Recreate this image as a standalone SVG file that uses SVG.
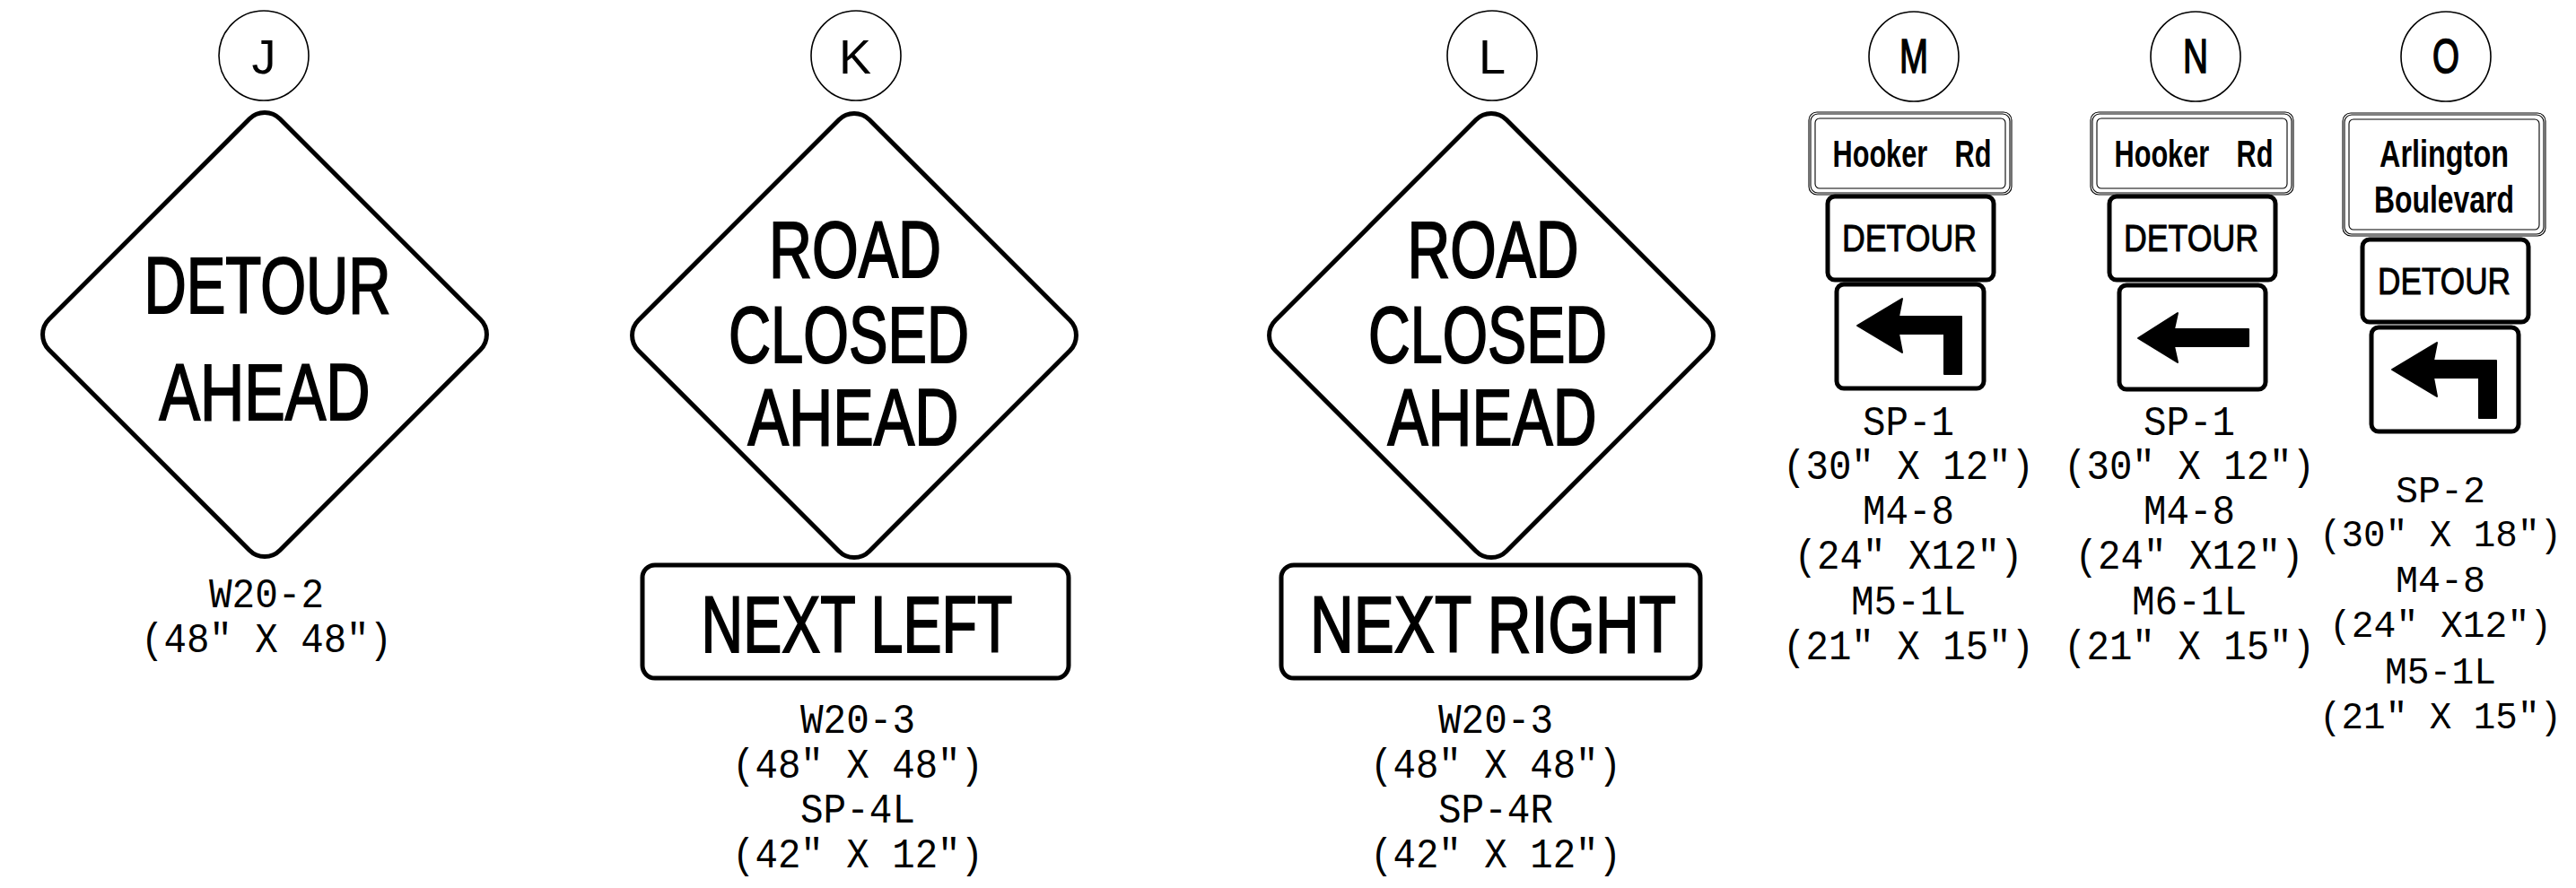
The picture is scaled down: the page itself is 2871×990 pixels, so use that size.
<svg xmlns="http://www.w3.org/2000/svg" width="2871" height="990" viewBox="0 0 2871 990">
<defs>
<style>
.bg{fill:#fff}
.tag{fill:#fff;stroke:#000;stroke-width:1.6}
.tagt{font-family:"Liberation Sans",Arial,sans-serif;font-size:54px;fill:#000;text-anchor:middle}
.tagb{stroke:#000;stroke-width:1.6}
.dia{fill:#fff;stroke:#000;stroke-width:5}
.leg{font-family:"Liberation Sans",Arial,sans-serif;font-size:89px;fill:#000;stroke:#000;stroke-width:2;text-anchor:middle}
.pan{fill:#fff;stroke:#000;stroke-width:5}
.lbl{font-family:"Liberation Mono","DejaVu Sans Mono",monospace;font-size:46px;fill:#000;text-anchor:middle}
.lblo{font-size:43px}
.thin{fill:none;stroke:#000;stroke-width:1.1}
.street{font-family:"Liberation Sans",Arial,sans-serif;font-weight:bold;font-size:42px;fill:#000;text-anchor:middle}
.det{font-family:"Liberation Sans",Arial,sans-serif;font-size:43px;fill:#000;stroke:#000;stroke-width:1;text-anchor:middle}
.arr{fill:#000;stroke:#000;stroke-width:2;stroke-linejoin:round}
</style>
<rect id="dm" x="-182" y="-182" width="364" height="364" rx="24"/>
<path id="turn" d="M23,47 L73,17 L69,37 L139,37 L139,101 L120,101 L120,56 L69,56 L73,77 Z"/>
<path id="straight" d="M21,59 L65,31 L61,49 L144,49 L144,68 L61,68 L65,86 Z"/>
</defs>
<rect class="bg" x="0" y="0" width="2871" height="990"/>

<g id="sign-J">
<circle class="tag" cx="294" cy="62" r="50"/>
<text class="tagt" x="294" y="82">J</text>
<use href="#dm" class="dia" transform="translate(295,373) rotate(45)"/>
<text class="leg" x="298" y="349" textLength="275" lengthAdjust="spacingAndGlyphs">DETOUR</text>
<text class="leg" x="295" y="468" textLength="235" lengthAdjust="spacingAndGlyphs">AHEAD</text>
<text class="lbl" x="297" y="677" textLength="128" lengthAdjust="spacingAndGlyphs">W20-2</text>
<text class="lbl" x="297" y="727" textLength="280" lengthAdjust="spacingAndGlyphs">(48″ X 48″)</text>
</g>

<g id="sign-K">
<circle class="tag" cx="954" cy="62" r="50"/>
<text class="tagt" x="953" y="82">K</text>
<use href="#dm" class="dia" transform="translate(952,374) rotate(45)"/>
<text class="leg" x="953" y="309" textLength="192" lengthAdjust="spacingAndGlyphs">ROAD</text>
<text class="leg" x="946" y="404" textLength="268" lengthAdjust="spacingAndGlyphs">CLOSED</text>
<text class="leg" x="951" y="496" textLength="235" lengthAdjust="spacingAndGlyphs">AHEAD</text>
<rect class="pan" x="716" y="630" width="475" height="126" rx="14"/>
<text class="leg" x="955" y="727" textLength="347" lengthAdjust="spacingAndGlyphs">NEXT LEFT</text>
<text class="lbl" x="956" y="817" textLength="128" lengthAdjust="spacingAndGlyphs">W20-3</text>
<text class="lbl" x="956" y="867" textLength="280" lengthAdjust="spacingAndGlyphs">(48″ X 48″)</text>
<text class="lbl" x="956" y="917" textLength="128" lengthAdjust="spacingAndGlyphs">SP-4L</text>
<text class="lbl" x="956" y="967" textLength="280" lengthAdjust="spacingAndGlyphs">(42″ X 12″)</text>
</g>

<g id="sign-L">
<circle class="tag" cx="1663" cy="62" r="50"/>
<text class="tagt" x="1663" y="82">L</text>
<use href="#dm" class="dia" transform="translate(1662,374) rotate(45)"/>
<text class="leg" x="1664" y="309" textLength="191" lengthAdjust="spacingAndGlyphs">ROAD</text>
<text class="leg" x="1658" y="404" textLength="266" lengthAdjust="spacingAndGlyphs">CLOSED</text>
<text class="leg" x="1663" y="496" textLength="233" lengthAdjust="spacingAndGlyphs">AHEAD</text>
<rect class="pan" x="1428" y="630" width="467" height="126" rx="14"/>
<text class="leg" x="1664" y="727" textLength="408" lengthAdjust="spacingAndGlyphs">NEXT RIGHT</text>
<text class="lbl" x="1667" y="817" textLength="128" lengthAdjust="spacingAndGlyphs">W20-3</text>
<text class="lbl" x="1667" y="867" textLength="280" lengthAdjust="spacingAndGlyphs">(48″ X 48″)</text>
<text class="lbl" x="1667" y="917" textLength="128" lengthAdjust="spacingAndGlyphs">SP-4R</text>
<text class="lbl" x="1667" y="967" textLength="280" lengthAdjust="spacingAndGlyphs">(42″ X 12″)</text>
</g>

<g id="sign-M">
<circle class="tag" cx="2133" cy="63" r="50"/>
<text class="tagt tagb" x="2133" y="81" textLength="32" lengthAdjust="spacingAndGlyphs">M</text>
<rect class="thin" x="2016" y="125" width="226" height="92" rx="9"/>
<rect class="thin" x="2018" y="127" width="222" height="88" rx="8"/>
<rect class="thin" x="2023" y="132" width="212" height="78" rx="5"/>
<text class="street" x="2131" y="186" textLength="177" lengthAdjust="spacingAndGlyphs" word-spacing="30">Hooker Rd</text>
<rect class="pan" x="2037" y="219" width="185" height="93" rx="8"/>
<text class="det" x="2128" y="280" textLength="150" lengthAdjust="spacingAndGlyphs">DETOUR</text>
<rect class="pan" x="2047" y="317" width="164" height="116" rx="8"/>
<use href="#turn" class="arr" transform="translate(2047,316)"/>
<text class="lbl" x="2127" y="485" textLength="102" lengthAdjust="spacingAndGlyphs">SP-1</text>
<text class="lbl" x="2127" y="534" textLength="280" lengthAdjust="spacingAndGlyphs">(30″ X 12″)</text>
<text class="lbl" x="2127" y="584" textLength="102" lengthAdjust="spacingAndGlyphs">M4-8</text>
<text class="lbl" x="2127" y="634" textLength="255" lengthAdjust="spacingAndGlyphs">(24″ X12″)</text>
<text class="lbl" x="2127" y="685" textLength="128" lengthAdjust="spacingAndGlyphs">M5-1L</text>
<text class="lbl" x="2127" y="735" textLength="280" lengthAdjust="spacingAndGlyphs">(21″ X 15″)</text>
</g>

<g id="sign-N">
<circle class="tag" cx="2447" cy="63" r="50"/>
<text class="tagt tagb" x="2447" y="81" textLength="28" lengthAdjust="spacingAndGlyphs">N</text>
<rect class="thin" x="2330" y="125" width="226" height="92" rx="9"/>
<rect class="thin" x="2332" y="127" width="222" height="88" rx="8"/>
<rect class="thin" x="2337" y="132" width="212" height="78" rx="5"/>
<text class="street" x="2445" y="186" textLength="177" lengthAdjust="spacingAndGlyphs" word-spacing="30">Hooker Rd</text>
<rect class="pan" x="2351" y="219" width="185" height="93" rx="8"/>
<text class="det" x="2442" y="280" textLength="150" lengthAdjust="spacingAndGlyphs">DETOUR</text>
<rect class="pan" x="2362" y="318" width="163" height="116" rx="8"/>
<use href="#straight" class="arr" transform="translate(2362,318)"/>
<text class="lbl" x="2440" y="485" textLength="102" lengthAdjust="spacingAndGlyphs">SP-1</text>
<text class="lbl" x="2440" y="534" textLength="280" lengthAdjust="spacingAndGlyphs">(30″ X 12″)</text>
<text class="lbl" x="2440" y="584" textLength="102" lengthAdjust="spacingAndGlyphs">M4-8</text>
<text class="lbl" x="2440" y="634" textLength="255" lengthAdjust="spacingAndGlyphs">(24″ X12″)</text>
<text class="lbl" x="2440" y="685" textLength="128" lengthAdjust="spacingAndGlyphs">M6-1L</text>
<text class="lbl" x="2440" y="735" textLength="280" lengthAdjust="spacingAndGlyphs">(21″ X 15″)</text>
</g>

<g id="sign-O">
<circle class="tag" cx="2726" cy="63" r="50"/>
<text class="tagt tagb" x="2726" y="81" textLength="30" lengthAdjust="spacingAndGlyphs">O</text>
<rect class="thin" x="2611" y="126" width="226" height="137" rx="9"/>
<rect class="thin" x="2613" y="128" width="222" height="133" rx="8"/>
<rect class="thin" x="2618" y="133" width="212" height="123" rx="5"/>
<text class="street" x="2724" y="186" textLength="144" lengthAdjust="spacingAndGlyphs">Arlington</text>
<text class="street" x="2724" y="237" textLength="156" lengthAdjust="spacingAndGlyphs">Boulevard</text>
<rect class="pan" x="2633" y="267" width="185" height="92" rx="8"/>
<text class="det" x="2724" y="328" textLength="148" lengthAdjust="spacingAndGlyphs">DETOUR</text>
<rect class="pan" x="2643" y="365" width="164" height="116" rx="8"/>
<use href="#turn" class="arr" transform="translate(2643,365)"/>
<text class="lbl lblo" x="2720" y="560" textLength="100" lengthAdjust="spacingAndGlyphs">SP-2</text>
<text class="lbl lblo" x="2720" y="609" textLength="270" lengthAdjust="spacingAndGlyphs">(30″ X 18″)</text>
<text class="lbl lblo" x="2720" y="660" textLength="100" lengthAdjust="spacingAndGlyphs">M4-8</text>
<text class="lbl lblo" x="2720" y="710" textLength="248" lengthAdjust="spacingAndGlyphs">(24″ X12″)</text>
<text class="lbl lblo" x="2720" y="762" textLength="124" lengthAdjust="spacingAndGlyphs">M5-1L</text>
<text class="lbl lblo" x="2720" y="812" textLength="270" lengthAdjust="spacingAndGlyphs">(21″ X 15″)</text>
</g>

<g id="connectors"></g>
</svg>
